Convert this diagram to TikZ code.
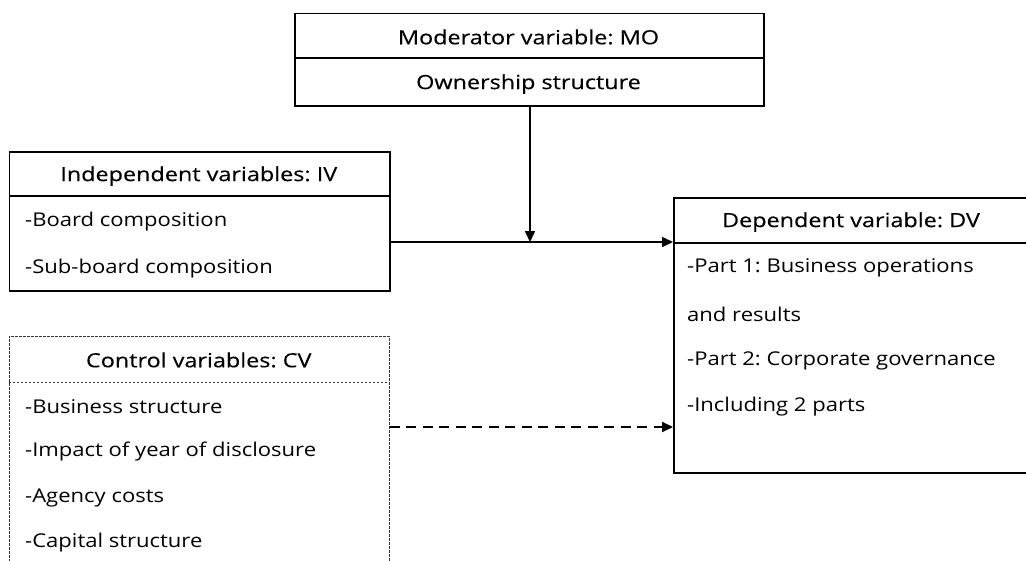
\documentclass[tikz,border=0pt]{standalone}
\usepackage{fontspec}
\setmainfont{Open Sans}[FakeStretch=1.16]
\newfontfamily\hdfont{Open Sans}[FakeStretch=1.2,FakeBold=0.3]
\usetikzlibrary{arrows.meta}
\frenchspacing
\begin{document}
\begin{tikzpicture}[x=1pt,y=-1pt,
  box/.style={draw=black, line width=1.6pt, inner sep=0pt, anchor=north west},
  dbox/.style={draw=black!80, line width=0.9pt, dash pattern=on 2.5pt off 1.5pt, inner sep=0pt, anchor=north west},
  hd/.style={inner sep=0pt, font=\fontsize{19.5}{22}\hdfont},
  it/.style={inner sep=0pt, anchor=west, font=\fontsize{19}{22}\selectfont},
  arr/.style={line width=1.6pt, -{Triangle[length=11pt,width=10pt]}},
  darr/.style={line width=2pt, dash pattern=on 10pt off 6.5pt, -{Triangle[length=11pt,width=10pt]}}
]
\useasboundingbox (0,0) rectangle (1026,560);
\clip (0,0) rectangle (1026,560);
\fill[white] (0,0) rectangle (1026,560);

% Moderator box
\node[box, minimum width=469pt, minimum height=92.5pt] (mo) at (294,12.5) {};
\draw[line width=1.6pt] (mo.west |- 0,58) -- (mo.east |- 0,58);
\node[hd] (moh) at (528.5,37) {Moderator variable: MO};
\node[hd] (mot) at (528.5,84) {Ownership structure};

% Independent box
\node[box, minimum width=380.5pt, minimum height=139pt] (iv) at (8.5,151) {};
\draw[line width=1.6pt] (iv.west |- 0,196) -- (iv.east |- 0,196);
\node[hd] (ivh) at (198.75,176) {Independent variables: IV};
\node[it] (iv1) at (25,222) {-Board composition};
\node[it] (iv2) at (25,269) {-Sub-board composition};

% Control box (dashed)
\node[dbox, minimum width=380.5pt, minimum height=260pt] (cv) at (8.5,336) {};
\draw[draw=black!80, line width=0.9pt, dash pattern=on 2.5pt off 1.5pt] (cv.west |- 0,382) -- (cv.east |- 0,382);
\node[hd] (cvh) at (198.75,360) {Control variables: CV};
\node[it] (cv1) at (25,407) {-Business structure};
\node[it] (cv2) at (25,452) {-Impact of year of disclosure};
\node[it] (cv3) at (25,498) {-Agency costs};
\node[it] (cv4) at (25,543) {-Capital structure};

% Dependent box
\node[box, minimum width=360pt, minimum height=275pt] (dv) at (673,197) {};
\draw[line width=1.6pt] (dv.west |- 0,243) -- (dv.east |- 0,243);
\node[hd] (dvh) at (851,222) {Dependent variable: DV};
\node[it] (dv1) at (687,268) {-Part 1: Business operations};
\node[it] (dv2) at (687,314) {and results};
\node[it] (dv3) at (687,361) {-Part 2: Corporate governance};
\node[it] (dv4) at (687,407) {-Including 2 parts};

% connectors
\coordinate (dvin) at (673,242);
\coordinate (join) at (530,242);
\coordinate (cvin) at (673,427);
\draw[arr] (iv.east |- dvin) -- (dvin);
\draw[arr] (mo.south -| join) -- (join);
\draw[darr] (cv.east |- cvin) -- (cvin);
\end{tikzpicture}
\end{document}
